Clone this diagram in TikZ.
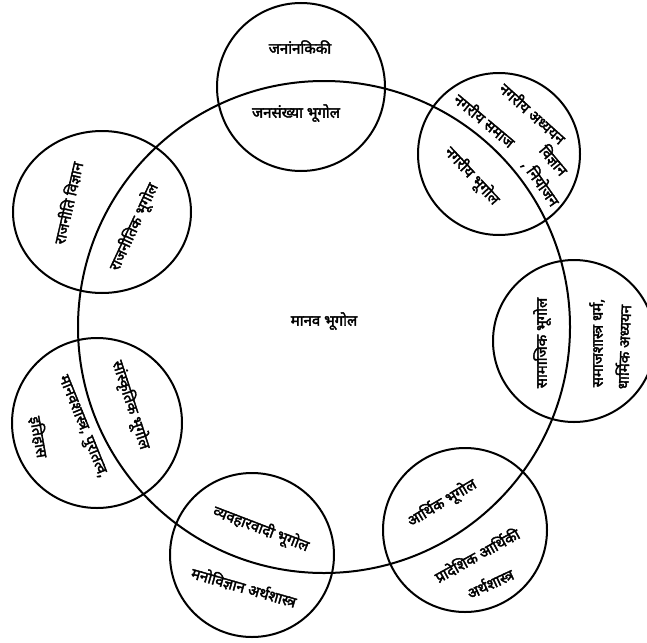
\documentclass[tikz,border=0pt]{standalone}
\usepackage{fontspec}
\newfontfamily\deva[Script=Devanagari, AutoFakeBold=2.5]{Noto Sans}
\usetikzlibrary{shapes.geometric}
\begin{document}
\begin{tikzpicture}[x=1pt,y=-1pt,
  ring/.style={draw=black, line width=2pt, circle, inner sep=0pt, minimum size=#1},
  oval/.style={draw=black, line width=2pt, ellipse, inner sep=0pt},
  lbl/.style={font=\deva\bfseries\fontsize{15}{17}\selectfont, inner sep=0pt}]
\useasboundingbox (0,0) rectangle (647,642);
\clip (0,0) rectangle (647,642);
% big circle
\node[ring=492pt] (main) at (324,327) {};
% small circles
\node[ring=168pt] (ctop) at (301,87) {};
\node[ring=162pt] (cur) at (499,154) {};
\node[oval, minimum width=178pt, minimum height=162pt] (cul) at (102,212) {};
\node[ring=162pt] (cr) at (574,341) {};
\node[ring=170pt] (cll) at (97,423) {};
\node[ring=164pt] (cbl) at (252,555) {};
\node[ring=164pt] (cbr) at (465,530) {};
% labels
\node[lbl] (tcen) at (324,321) {मानव भूगोल};
\node[lbl] (t1a) at (300,47) {जनांनकिकी};
\node[lbl] (t1b) at (296,113) {जनसंख्या भूगोल};
\node[lbl, rotate=-42] (t2a) at (533,113) {नगरीय अध्ययन};
\node[lbl, rotate=-40] (t2b) at (485,120) {नगरीय समाज};
\node[lbl, rotate=-50] (t2c) at (554,160) {विज्ञान};
\node[lbl, rotate=-55] (t2d) at (541,183) {, नियोजन};
\node[lbl, rotate=-47] (t2e) at (472,176) {नगरीय भूगोल};
\node[lbl, rotate=77] (t3a) at (68,203) {राजनीति विज्ञान};
\node[lbl, rotate=65] (t3b) at (134,227) {राजनीतिक भूगोल};
\node[lbl, rotate=90] (t4a) at (542,343) {सामाजिक भूगोल};
\node[lbl, rotate=90] (t4b) at (597,343) {समाजशास्त्र धर्म,};
\node[lbl, rotate=88] (t4c) at (623,347) {धार्मिक अध्ययन};
\node[lbl, rotate=-72] (t5a) at (131,405) {सांस्कृतिक भूगोल};
\node[lbl, rotate=-68] (t5b) at (82,427) {मानवशास्त्र, पुरातत्व,};
\node[lbl, rotate=-80] (t5c) at (39,437) {इतिहास};
\node[lbl, rotate=-21] (t6a) at (261,529) {व्यवहारवादी भूगोल};
\node[lbl, rotate=-16] (t6b) at (244,587) {मनोविज्ञान अर्थशास्त्र};
\node[lbl, rotate=31] (t7a) at (442,503) {आर्थिक भूगोल};
\node[lbl, rotate=29] (t7b) at (477,555) {प्रादेशिक आर्थिकी};
\node[lbl, rotate=25] (t7c) at (490,583) {अर्थशास्त्र};
\end{tikzpicture}
\end{document}
